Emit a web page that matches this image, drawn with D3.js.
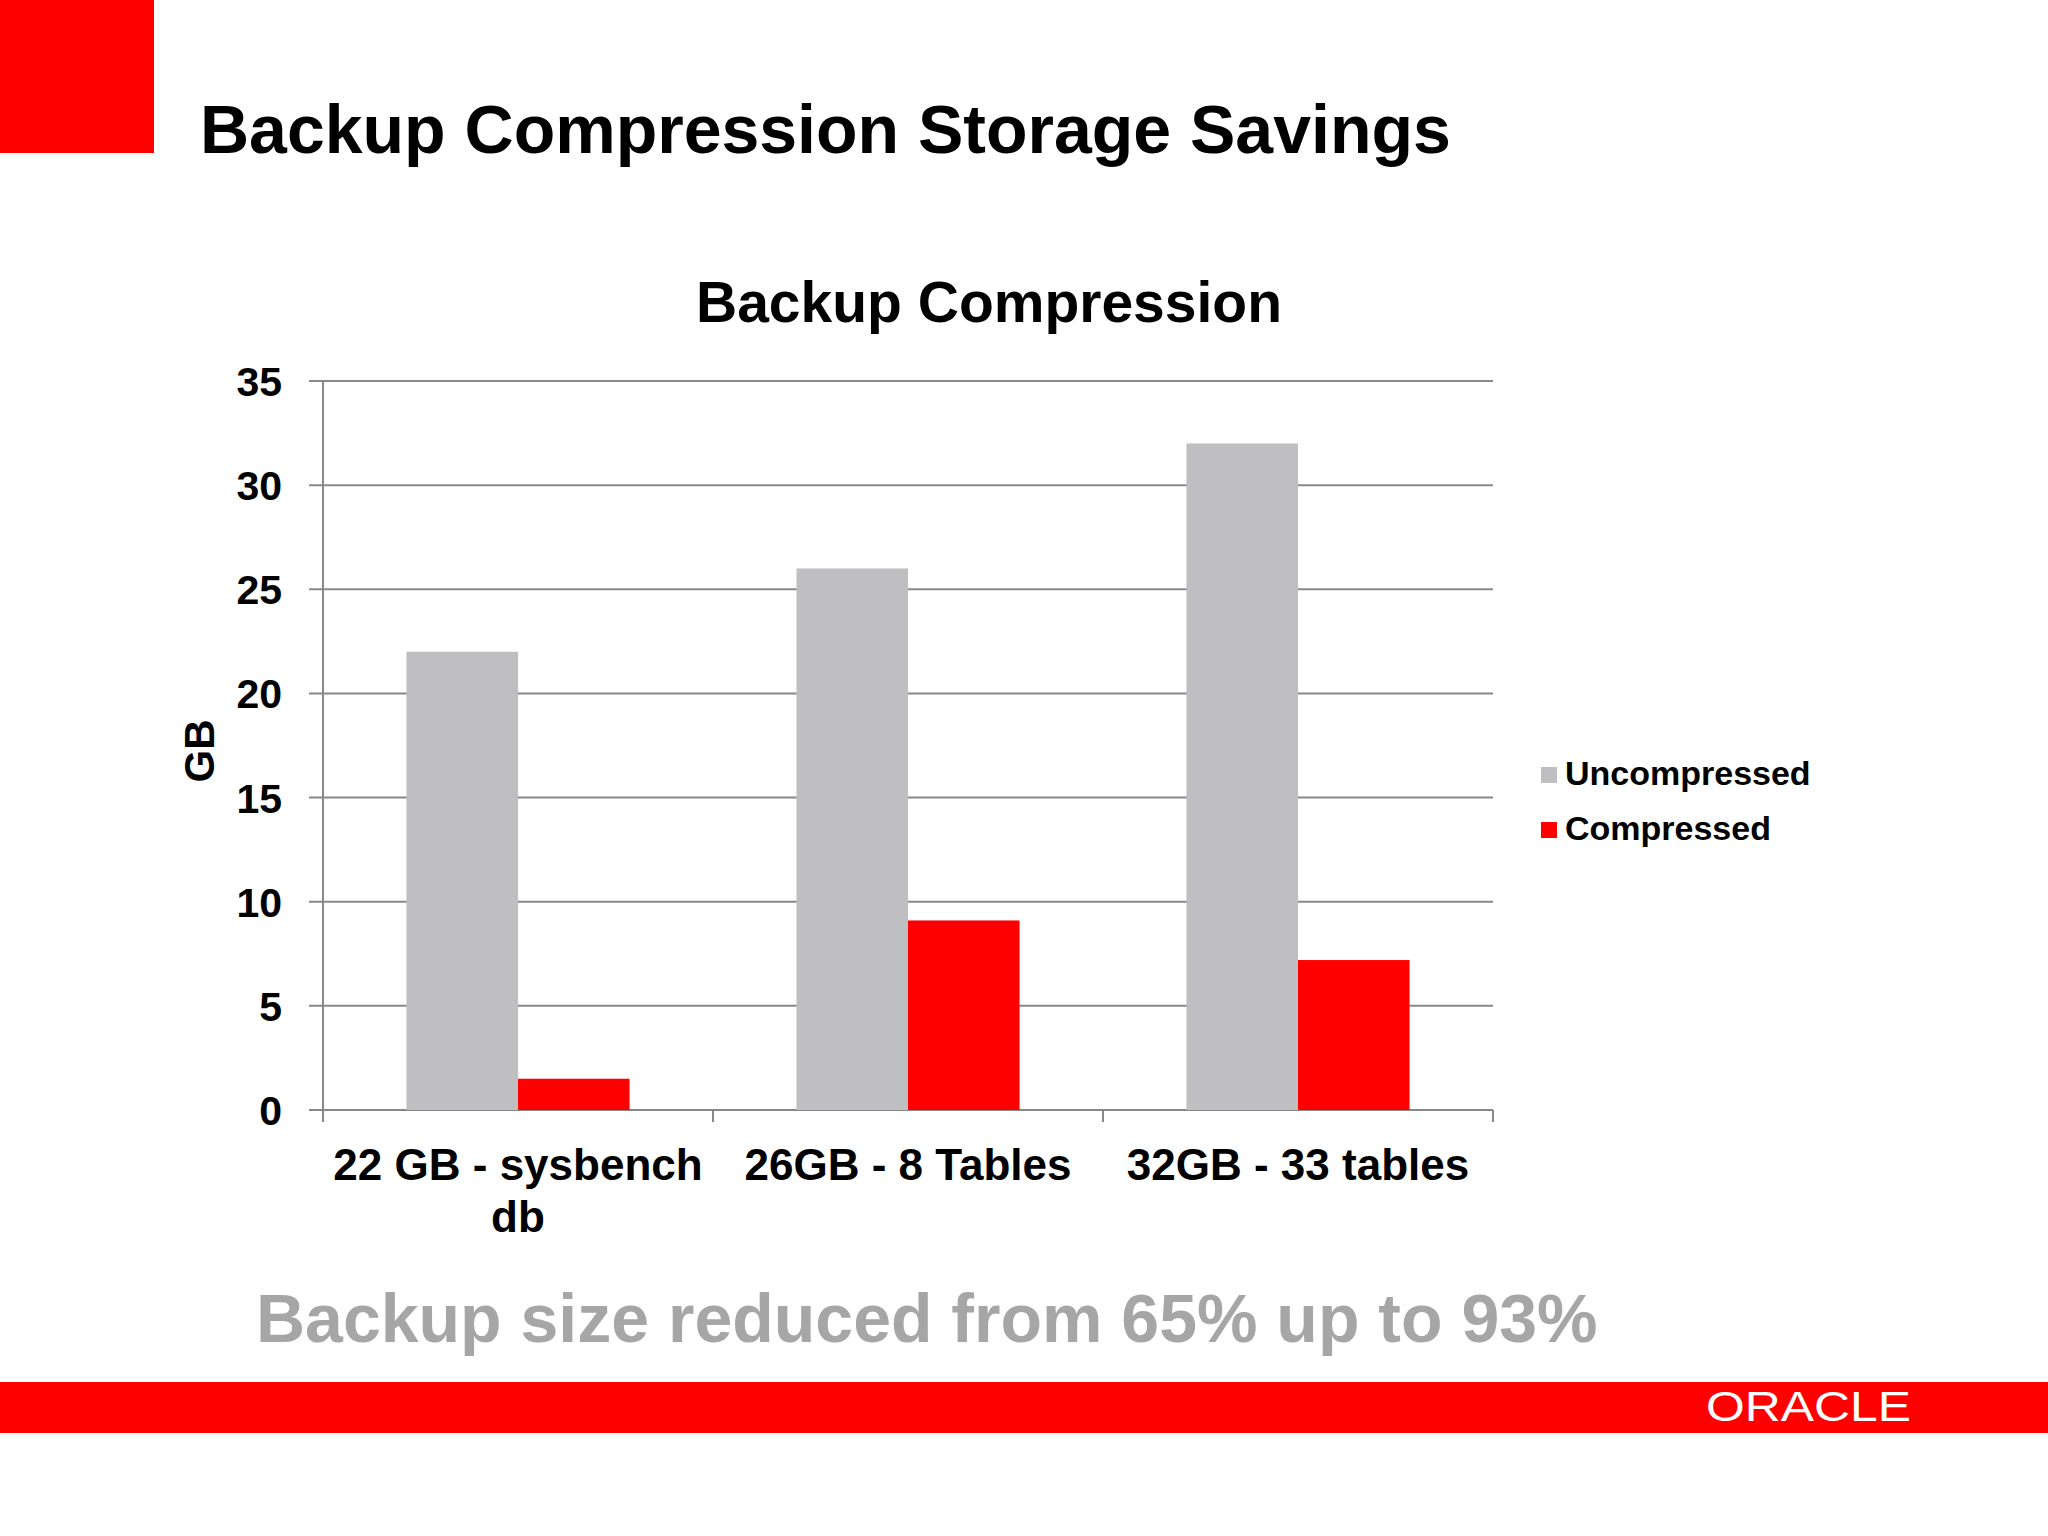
<!DOCTYPE html>
<html><head><meta charset="utf-8">
<script src="https://cdn.jsdelivr.net/npm/d3@7"></script>
<style>body{margin:0;background:#fff}svg{display:block}text{font-family:"Liberation Sans",Arial,sans-serif;font-weight:bold}</style>
</head><body><svg id="c" width="2048" height="1536"></svg>
<script>
const categories = [["22 GB - sysbench","db"],["26GB - 8 Tables"],["32GB - 33 tables"]];
const seriesNames = ["Uncompressed","Compressed"];
const uncompressed = [22, 26, 32];
const compressed = [1.5, 9.1, 7.2];
const yTicks = [0,5,10,15,20,25,30,35];
const colors = ["#bfbfc1","#ff0000"];

const svg = d3.select("#c");
svg.append("rect").attr("x",0).attr("y",0).attr("width",154).attr("height",153).attr("fill","#ff0000");
svg.append("text").attr("x",200).attr("y",153).attr("font-size",68).attr("fill","#000").text("Backup Compression Storage Savings");
svg.append("text").attr("x",989).attr("y",322).attr("text-anchor","middle").attr("font-size",57).text("Backup Compression");

const L=323,R=1493,T=381,B=1110;
const x = d3.scaleBand().domain(d3.range(categories.length)).range([L,R]).paddingInner(0.428).paddingOuter(0.214);
const xs = d3.scaleBand().domain([0,1]).range([0,x.bandwidth()]);
const y = d3.scaleLinear().domain([0,35]).range([B,T]);

const g = svg.append("g");
g.selectAll("line.grid").data(yTicks).join("line").attr("x1",L-14).attr("x2",R)
  .attr("y1",d=>y(d)).attr("y2",d=>y(d)).attr("stroke","#888").attr("stroke-width",2);
g.append("line").attr("x1",L).attr("x2",L).attr("y1",T).attr("y2",B).attr("stroke","#888").attr("stroke-width",2);
[0,1,2,3].forEach(i=>{const xx=L+(R-L)*i/3;g.append("line").attr("x1",xx).attr("x2",xx).attr("y1",B).attr("y2",B+12).attr("stroke","#888").attr("stroke-width",2);});
g.selectAll("text.yt").data(yTicks).join("text").attr("x",282).attr("y",d=>y(d)+15).attr("text-anchor","end").attr("font-size",41).text(d=>d);

[uncompressed,compressed].forEach((vals,s)=>{
  g.selectAll("rect.s"+s).data(vals).join("rect").attr("x",(d,i)=>x(i)+xs(s)).attr("width",xs.bandwidth())
    .attr("y",d=>y(d)).attr("height",d=>y(0)-y(d)).attr("fill",colors[s]);
});

categories.forEach((lines,i)=>{
  const t=g.append("text").attr("x",x(i)+x.bandwidth()/2).attr("text-anchor","middle").attr("font-size",44);
  lines.forEach((l,j)=>t.append("tspan").attr("x",x(i)+x.bandwidth()/2).attr("y",1180+j*52).text(l));
});
svg.append("text").attr("transform","translate(214,751) rotate(-90)").attr("text-anchor","middle").attr("font-size",42).text("GB");

seriesNames.forEach((n,i)=>{
  svg.append("rect").attr("x",1541).attr("y",767+i*55).attr("width",16).attr("height",16).attr("fill",colors[i]);
  svg.append("text").attr("x",1565).attr("y",785+i*55).attr("font-size",34).text(n);
});

svg.append("text").attr("x",256).attr("y",1342).attr("font-size",68).attr("fill","#a6a6a6").text("Backup size reduced from 65% up to 93%");
svg.append("rect").attr("x",0).attr("y",1382).attr("width",2048).attr("height",51).attr("fill","#ff0000");
svg.append("text").attr("x",1706).attr("y",1421).attr("font-size",42).attr("fill","#fff").style("font-weight","normal")
  .attr("textLength",205).attr("lengthAdjust","spacingAndGlyphs").text("ORACLE");
</script></body></html>
